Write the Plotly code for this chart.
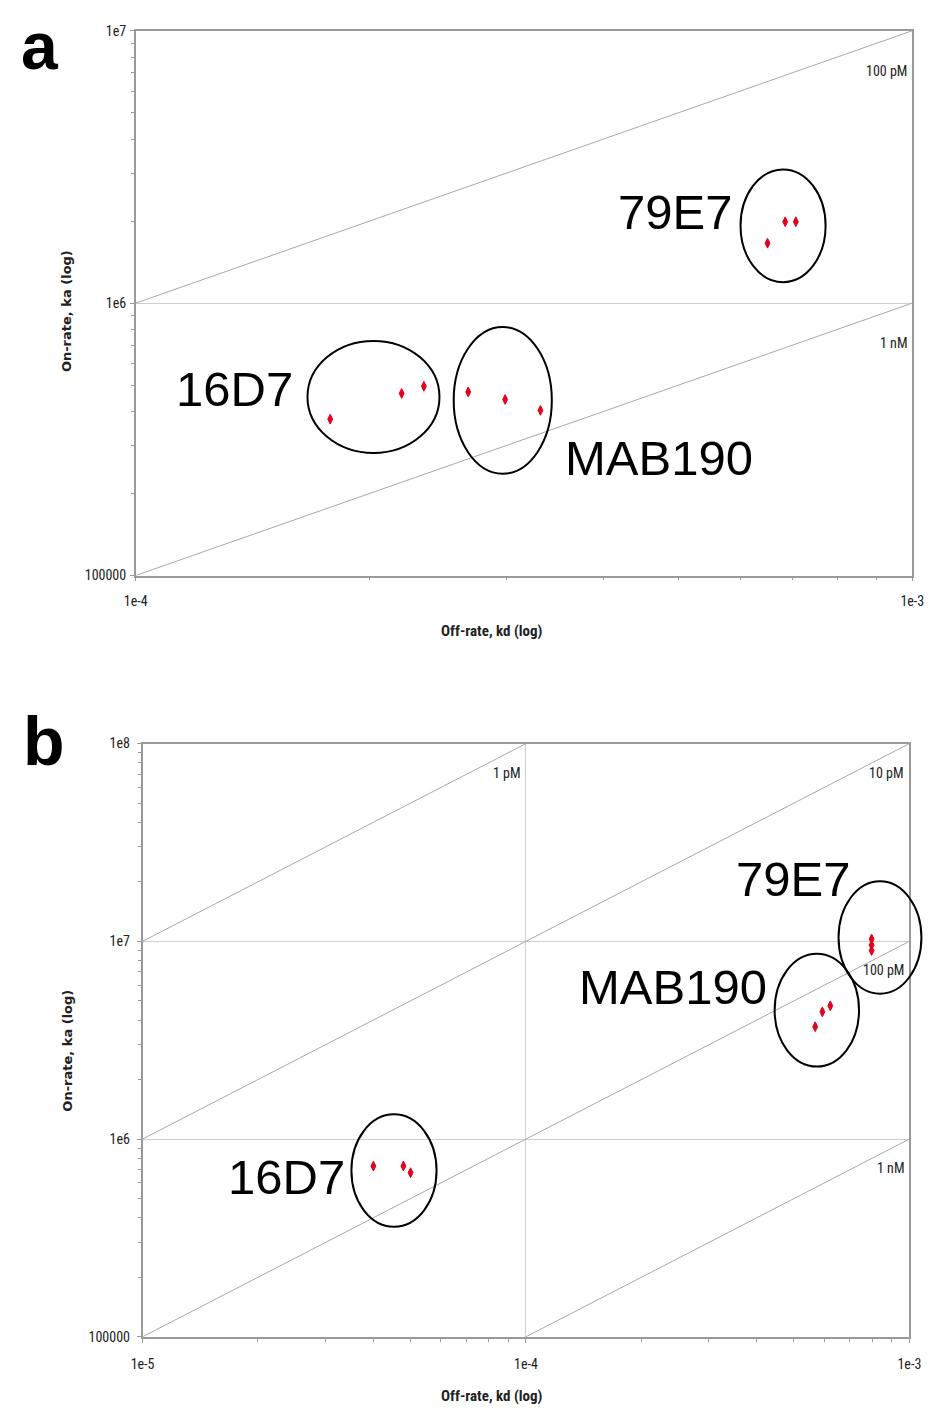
import math
import plotly.graph_objects as go

# ---------------- Panel a data ----------------
a_kd_range = [1e-4, 1e-3]
a_ka_range = [1e5, 1e7]
a_kd_16D7 = [1.78e-4, 2.20e-4, 2.35e-4]
a_ka_16D7 = [3.75e5, 4.66e5, 4.95e5]
a_kd_MAB190 = [2.68e-4, 2.99e-4, 3.32e-4]
a_ka_MAB190 = [4.72e5, 4.43e5, 4.04e5]
a_kd_79E7 = [6.51e-4, 6.86e-4, 7.08e-4]
a_ka_79E7 = [1.66e6, 1.99e6, 1.99e6]
a_KD_lines = [1e-10, 1e-9]
a_KD_labels = ["100 pM", "1 nM"]
a_xtickvals = [1e-4, 1e-3]
a_xticktext = ["1e-4", "1e-3"]
a_ytickvals = [1e5, 1e6, 1e7]
a_yticktext = ["100000", "1e6", "1e7"]
# group outlines: [kd_low, kd_high, ka_low, ka_high]
a_ell_16D7 = [1.664e-4, 2.461e-4, 2.819e5, 7.265e5]
a_ell_MAB190 = [2.567e-4, 3.434e-4, 2.365e5, 8.17e5]
a_ell_79E7 = [6.009e-4, 7.733e-4, 1.194e6, 3.095e6]
a_lab_text = ["16D7", "MAB190", "79E7"]
a_lab_kd = [1.34e-4, 4.72e-4, 4.955e-4]
a_lab_ka = [4.85e5, 2.69e5, 2.167e6]

# ---------------- Panel b data ----------------
b_kd_range = [1e-5, 1e-3]
b_ka_range = [1e5, 1e8]
b_kd_16D7 = [4.00e-5, 4.79e-5, 5.00e-5]
b_ka_16D7 = [7.30e5, 7.31e5, 6.76e5]
b_kd_MAB190 = [5.68e-4, 5.93e-4, 6.22e-4]
b_ka_MAB190 = [3.70e6, 4.40e6, 4.72e6]
b_kd_79E7 = [7.97e-4, 7.97e-4, 7.97e-4]
b_ka_79E7 = [1.027e7, 9.58e6, 8.98e6]
b_KD_lines = [1e-12, 1e-11, 1e-10, 1e-9]
b_KD_labels = ["1 pM", "10 pM", "100 pM", "1 nM"]
b_xtickvals = [1e-5, 1e-4, 1e-3]
b_xticktext = ["1e-5", "1e-4", "1e-3"]
b_ytickvals = [1e5, 1e6, 1e7, 1e8]
b_yticktext = ["100000", "1e6", "1e7", "1e8"]
b_ell_16D7 = [3.505e-5, 5.845e-5, 3.602e5, 1.334e6]
b_ell_MAB190 = [4.452e-4, 7.39e-4, 2.325e6, 8.64e6]
b_ell_79E7 = [6.535e-4, 1.075e-3, 5.433e6, 2.011e7]
b_lab_text = ["16D7", "MAB190", "79E7"]
b_lab_kd = [2.372e-5, 2.413e-4, 4.98e-4]
b_lab_ka = [6.42e5, 5.89e6, 2.065e7]

NARROW = ("Liberation Sans Narrow, Arial Narrow, Roboto Condensed, "
          "DejaVu Sans Condensed, Liberation Sans, Arial, sans-serif")
ARIAL = "Liberation Sans, Arial, sans-serif"
RED = "#e3001b"
LINEGRAY = "#a8a8a8"
AXGRAY = "#9a9a9a"

W, H = 936, 1414


def minor_vals(lo, hi):
    out = []
    d = math.floor(math.log10(lo))
    while 10 ** d < hi:
        for m in range(2, 10):
            v = m * 10 ** d
            if lo < v < hi:
                out.append(v)
        d += 1
    return out


def to_domain(v, rng):
    # position of a value along a log axis, as a fraction of that axis
    l0, l1 = math.log10(rng[0]), math.log10(rng[1])
    return (math.log10(v) - l0) / (l1 - l0)


fig = go.Figure()


def add_panel(xr, yr, kd_range, ka_range, groups, KDs, KD_labels, ells,
              lab_text, lab_kd, lab_ka, yshift_lab):
    # iso-affinity lines
    for KD, lab in zip(KDs, KD_labels):
        xs = list(kd_range)
        ys = [k / KD for k in xs]
        fig.add_trace(go.Scatter(x=xs, y=ys, mode="lines", xaxis=xr, yaxis=yr,
                                 line=dict(color=LINEGRAY, width=1),
                                 hoverinfo="skip", showlegend=False))
        kd_exit = min(kd_range[1], ka_range[1] * KD)
        ka_exit = kd_exit / KD
        fig.add_annotation(x=math.log10(kd_exit), y=math.log10(ka_exit),
                           xref=xr, yref=yr, text=lab, showarrow=False,
                           xanchor="right", yanchor="middle",
                           xshift=-3, yshift=yshift_lab,
                           font=dict(family=NARROW, size=14, color="#222"))
    # data points
    for kd, ka in groups:
        fig.add_trace(go.Scatter(x=kd, y=ka, mode="markers", xaxis=xr, yaxis=yr,
                                 marker=dict(symbol="diamond-tall", size=7, color=RED,
                                             line=dict(color=RED, width=1)),
                                 showlegend=False))
    # group outlines (may extend past the frame, as in the original)
    for e in ells:
        fig.add_shape(type="circle", xref=xr + " domain", yref=yr + " domain",
                      x0=to_domain(e[0], kd_range), x1=to_domain(e[1], kd_range),
                      y0=to_domain(e[2], ka_range), y1=to_domain(e[3], ka_range),
                      line=dict(color="black", width=2))
    # group labels
    for t, kx, ky in zip(lab_text, lab_kd, lab_ka):
        fig.add_annotation(x=math.log10(kx), y=math.log10(ky), xref=xr, yref=yr,
                           text=t, showarrow=False, xanchor="center", yanchor="middle",
                           font=dict(family=ARIAL, size=49, color="black"))


add_panel("x", "y", a_kd_range, a_ka_range,
          [(a_kd_16D7, a_ka_16D7), (a_kd_MAB190, a_ka_MAB190), (a_kd_79E7, a_ka_79E7)],
          a_KD_lines, a_KD_labels, [a_ell_16D7, a_ell_MAB190, a_ell_79E7],
          a_lab_text, a_lab_kd, a_lab_ka, -40)
add_panel("x2", "y2", b_kd_range, b_ka_range,
          [(b_kd_16D7, b_ka_16D7), (b_kd_MAB190, b_ka_MAB190), (b_kd_79E7, b_ka_79E7)],
          b_KD_lines, b_KD_labels, [b_ell_16D7, b_ell_MAB190, b_ell_79E7],
          b_lab_text, b_lab_kd, b_lab_ka, -29)


def axis(rng, tv, tt, domain, anchor, standoff):
    return dict(type="log", range=[math.log10(rng[0]), math.log10(rng[1])],
                domain=domain, anchor=anchor,
                tickmode="array", tickvals=tv, ticktext=tt,
                showline=True, linecolor=AXGRAY, linewidth=1.5, mirror=True,
                showgrid=True, gridcolor="#d0d0d0", gridwidth=1, zeroline=False,
                ticks="outside", ticklen=4, tickcolor=AXGRAY, tickwidth=1,
                ticklabelstandoff=standoff,
                tickfont=dict(family=NARROW, size=14, color="#222"),
                minor=dict(ticks="outside", ticklen=3, tickcolor=AXGRAY, tickwidth=1,
                           showgrid=False, tickmode="array",
                           tickvals=minor_vals(rng[0], rng[1])))


fig.update_layout(
    width=W, height=H, margin=dict(l=0, r=0, t=0, b=0),
    paper_bgcolor="white", plot_bgcolor="white", showlegend=False,
    xaxis=axis(a_kd_range, a_xtickvals, a_xticktext, [127 / W, 924 / W], "y", 8),
    yaxis=axis(a_ka_range, a_ytickvals, a_yticktext, [1 - 574 / H, 1 - 23 / H], "x", 1),
    xaxis2=axis(b_kd_range, b_xtickvals, b_xticktext, [134 / W, 921 / W], "y2", 10),
    yaxis2=axis(b_ka_range, b_ytickvals, b_yticktext, [1 - 1344 / H, 1 - 744 / H], "x2", 4),
)

# axis titles and panel letters
for yc in [630, 1404]:
    fig.add_annotation(x=493 / W, y=1 - yc / H, xref="paper", yref="paper",
                       text="<b>Off-rate, kd (log)</b>", showarrow=False,
                       xanchor="center", yanchor="middle",
                       font=dict(family=NARROW, size=15, color="#222"))
for yc in [307, 1055]:
    fig.add_annotation(x=56 / W, y=1 - yc / H, xref="paper", yref="paper",
                       text="<b>On-rate, ka (log)</b>", showarrow=False, textangle=-90,
                       xanchor="center", yanchor="middle",
                       font=dict(family="DejaVu Sans, sans-serif", size=13, color="#222"))
fig.add_annotation(x=8 / W, y=1, xref="paper", yref="paper", text="<b>a</b>",
                   showarrow=False, xanchor="left", yanchor="top", borderpad=0,
                   font=dict(family=ARIAL, size=66, color="black"))
fig.add_annotation(x=10 / W, y=1 - 781 / H, xref="paper", yref="paper", text="<b>b</b>",
                   showarrow=False, xanchor="left", yanchor="bottom", borderpad=0,
                   font=dict(family=ARIAL, size=68, color="black"))

fig.write_html("out.html",
               config={"displayModeBar": False},
               post_script="document.body.style.margin='0';"
                           "document.body.style.overflow='hidden';")
